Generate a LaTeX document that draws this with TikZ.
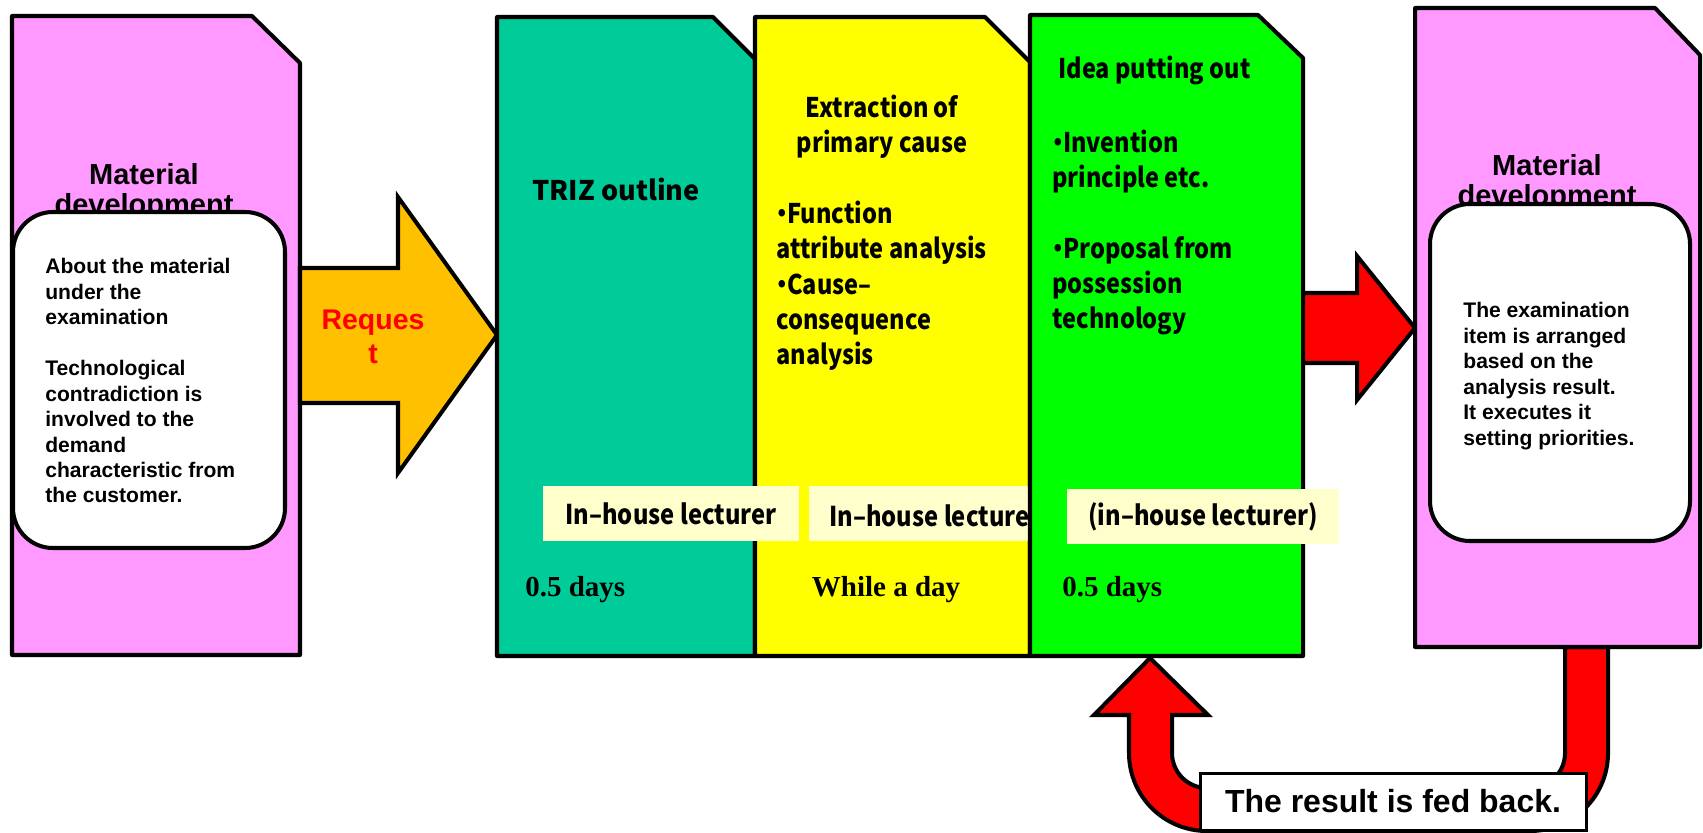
\documentclass[tikz,border=0pt]{standalone}
\usepackage{fontspec}
\setmainfont{Liberation Sans}
\newfontfamily\jpfont[FakeStretch=0.87]{Noto Sans CJK JP}
\newfontfamily\trizfont{Noto Sans CJK JP}
\newfontfamily\romanfont{Liberation Serif}
\usetikzlibrary{calc, positioning}

\definecolor{matpink}{RGB}{255,153,255}
\definecolor{trizteal}{RGB}{0,204,153}
\definecolor{causeyellow}{RGB}{255,255,0}
\definecolor{ideagreen}{RGB}{0,255,0}
\definecolor{reqorange}{RGB}{255,192,0}
\definecolor{lecbg}{RGB}{255,255,204}

\newcommand{\jdot}{\makebox[0.4em][c]{・}}

\begin{document}
\begin{tikzpicture}[
    x=0.2mm, y=-0.2mm,
    % Styles
    docbox/.style={draw=black, line width=2.3pt, line join=round, fill=#1},
    blockarrow/.style={draw=black, line width=2.3pt, line join=miter, fill=#1},
    notebox/.style={draw=black, line width=2.3pt, fill=white, rounded corners=8mm, inner sep=0},
    titletxt/.style={font=\bfseries\fontsize{16.5}{17}\selectfont, align=center, inner sep=0, anchor=north},
    notetxt/.style={font=\bfseries\fontsize{12}{14.5}\selectfont, align=left, inner sep=0, anchor=north west},
    jptxt/.style={font=\jpfont\bfseries\fontsize{15.4}{20}\selectfont, inner sep=0},
    lecturer/.style={fill=lecbg, inner sep=0, minimum height=11mm, font=\jpfont\bfseries\fontsize{15.5}{18}\selectfont},
    daytxt/.style={font=\romanfont\bfseries\fontsize{16.5}{20}\selectfont, inner sep=0},
  ]
  \useasboundingbox (0,0) rectangle (1703,832);

  % 1) Feedback arrow (under the boxes)
  \coordinate (ideaS) at (1150,658);
  \draw[blockarrow=red] (1608,647) -- (1608,753) arc[start angle=0, end angle=90, radius=78]
    -- (1207,831) arc[start angle=90, end angle=180, radius=78]
    -- (1129,715) -- (1094,715) -- (ideaS) -- (1208,715) -- (1172,715) -- (1172,753)
    arc[start angle=180, end angle=90, radius=35] -- (1530,788)
    arc[start angle=90, end angle=0, radius=35] -- (1565,647) -- cycle;

  % 2) Material development (left)
  \draw[docbox=matpink] (12,655) -- (12,16) -- (252,16) -- (300,63) -- (300,655) -- cycle;
  \node[titletxt] (matLtitle) at (144,163) {Material\\development};
  \node[notebox, minimum width=54.4mm, minimum height=67.2mm] (matLnote) at (149,380) {};
  \node[notetxt] (matLtxt) at (45,258) {About the material\\under the\\examination\\[14.5pt]Technological\\contradiction is\\involved to the\\demand\\characteristic from\\the customer.};

  % 3) Request arrow
  \coordinate (matLE) at (300,335);
  \coordinate (trizW) at (497,335);
  \draw[blockarrow=reqorange] ($(matLE)+(0,-67)$) -- ++(98,0) -- ++(0,-71) -- (trizW)
    -- ++(-99,138) -- ++(0,-70) -- ++(-98,0) -- cycle;
  \node[font=\bfseries\fontsize{16.2}{19}\selectfont, text=red, align=center, inner sep=0, anchor=north] (reqTxt) at (373,310) {Reques\\t};

  % 4) TRIZ outline
  \draw[docbox=trizteal] (497,656) -- (497,17) -- (713,17) -- (755,59) -- (755,656) -- cycle;
  \node[font=\trizfont\bfseries\fontsize{15.4}{20}\selectfont, inner sep=0, anchor=base] (trizTxt) at (616,200) {TRIZ outline};
  \node[daytxt, anchor=base west] (trizDays) at (525,596) {0.5 days};

  % 5) Extraction of primary cause
  \draw[docbox=causeyellow] (755,656) -- (755,17) -- (985,17) -- (1030,62) -- (1030,656) -- cycle;
  \node[jptxt, align=center, anchor=north] (causeTitle) at (882,95) {Extraction of\\primary cause};
  \node[jptxt, align=left, anchor=north west] (causeTxt) at (776,201) {\jdot Function\\attribute analysis\\\jdot Cause–\\consequence\\analysis};
  \node[lecturer, minimum width=51.2mm] (lecTriz) at (671,513.5) {In–house lecturer};
  \node[lecturer, minimum width=51.2mm] (lecCause) at (937,513.5) {};
  \node[lecturer, fill=none, minimum height=0pt, anchor=base west] (lecCauseTxt) at (829,526) {In–house lecturer};
  \node[daytxt, anchor=base] (causeDays) at (886,596) {While a day};

  % 6) Idea putting out
  \draw[docbox=ideagreen] (1030,656) -- (1030,15) -- (1258,15) -- (1303,58) -- (1303,656) -- cycle;
  \node[jptxt, anchor=base west] (ideaTitle) at (1058,78) {Idea putting out};
  \node[jptxt, align=left, anchor=north west] (ideaTxt) at (1052,130) {\jdot Invention\\principle etc.\\[20pt]\jdot Proposal from\\possession\\technology};
  \node[lecturer, minimum width=54.4mm] (lecIdea) at (1203,516.5) {(in–house lecturer)};
  \node[daytxt, anchor=base west] (ideaDays) at (1062,596) {0.5 days};

  % 7) Result arrow and material development (right)
  \coordinate (ideaE) at (1303,328);
  \coordinate (matRW) at (1415,328);
  \draw[blockarrow=red] ($(ideaE)+(0,-35)$) -- ++(54,0) -- ++(0,-37) -- (matRW)
    -- ++(-58,72) -- ++(0,-37) -- ++(-54,0) -- cycle;
  \draw[docbox=matpink] (1415,647) -- (1415,8) -- (1655,8) -- (1700,55) -- (1700,647) -- cycle;
  \node[titletxt] (matRtitle) at (1547,154) {Material\\development};
  \node[notebox, minimum width=52mm, minimum height=67.4mm] (matRnote) at (1560,372.5) {};
  \node[notetxt] (matRtxt) at (1463,302) {The examination\\item is arranged\\based on the\\analysis result.\\It executes it\\setting priorities.};

  % 8) Feedback label
  \node[draw, line width=1.7pt, fill=white, minimum width=77.2mm, minimum height=11.4mm,
    font=\bfseries\fontsize{18.2}{20}\selectfont] (fedBack) at (1393,801.5) {The result is fed back.};
\end{tikzpicture}
\end{document}
